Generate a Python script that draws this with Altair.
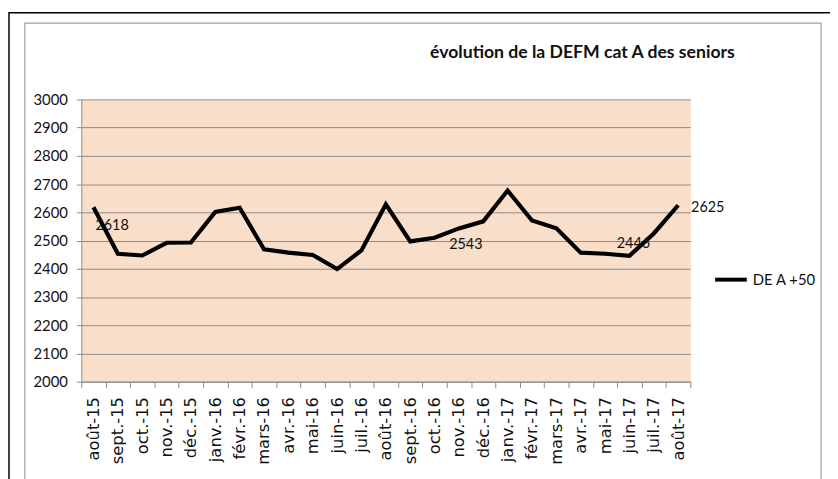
import altair as alt
import pandas as pd

months = ["août-15", "sept.-15", "oct.-15", "nov.-15", "déc.-15", "janv.-16", "févr.-16",
          "mars-16", "avr.-16", "mai-16", "juin-16", "juil.-16", "août-16", "sept.-16",
          "oct.-16", "nov.-16", "déc.-16", "janv.-17", "févr.-17", "mars-17", "avr.-17",
          "mai-17", "juin-17", "juil.-17", "août-17"]
values = [2618, 2453, 2447, 2492, 2493, 2601, 2616, 2469, 2457, 2449, 2399, 2465, 2628,
          2497, 2510, 2543, 2568, 2677, 2571, 2543, 2457, 2453, 2446, 2525, 2625]
series_name = "DE A +50"
title_text = "évolution de la DEFM cat A des seniors"

df = pd.DataFrame({"mois": months, "val": values, "serie": [series_name] * len(months)})

FONT = "Lato, Liberation Sans"
W, H = 615, 285

x_enc = alt.X("mois:N", sort=months, title=None,
              scale=alt.Scale(type="band", paddingInner=0, paddingOuter=0),
              axis=alt.Axis(labelAngle=-90, tickBand="extent", tickSize=6, labelPadding=9,
                            domainColor="#8c8c8c", tickColor="#8c8c8c", grid=False,
                            labelFont="DejaVu Sans", labelFontSize=16.5, labelColor="#111"))
y_enc = alt.Y("val:Q", title=None,
              scale=alt.Scale(domain=[2000, 3000], nice=False, zero=False),
              axis=alt.Axis(values=list(range(2000, 3001, 100)), format="d", tickSize=5,
                            labelPadding=9, domainColor="#8c8c8c", tickColor="#8c8c8c",
                            gridColor="#8c8c8c", gridWidth=1, gridOpacity=1,
                            labelFont=FONT, labelFontSize=15, labelColor="#111"))

base = alt.Chart(df).encode(x=x_enc, y=y_enc)

frame_data = alt.Data(values=[{"k": 1}])
outer = alt.Chart(frame_data).mark_rect(fill="transparent", stroke="black", strokeWidth=1.5).encode(
    x=alt.value(-73), x2=alt.value(760), y=alt.value(-87.5), y2=alt.value(420))
inner = alt.Chart(frame_data).mark_rect(fill="transparent", stroke="#a0a0a0", strokeWidth=1.2).encode(
    x=alt.value(-57), x2=alt.value(747), y=alt.value(-77), y2=alt.value(420))

title = alt.Chart(frame_data).mark_text(font=FONT, fontSize=17.8, fontWeight="bold",
                                        align="center", baseline="alphabetic", color="#111").encode(
    x=alt.value(506), y=alt.value(-42), text=alt.value(title_text))

line = base.mark_line(strokeWidth=4.2).encode(
    color=alt.Color("serie:N", scale=alt.Scale(range=["black"]),
                    legend=alt.Legend(title=None, orient="none", legendX=638, legendY=164,
                                      symbolType="stroke", symbolSize=1024, symbolStrokeWidth=4,
                                      labelFont=FONT, labelFontSize=15, labelColor="#111",
                                      labelOffset=4, padding=0)))

def lab(month, align, dx, dy):
    return base.mark_text(font=FONT, fontSize=14.5, align=align, baseline="middle",
                          dx=dx, dy=dy, color="#111").encode(text="val:Q").transform_filter(
        alt.datum.mois == month)

labels = [lab("août-15", "left", 2, 19), lab("nov.-16", "center", 7, 17),
          lab("juin-17", "center", 4, -12), lab("août-17", "left", 13, 3)]

chart = alt.layer(outer, inner, title, line, *labels).properties(
    width=W, height=H,
    autosize=alt.AutoSizeParams(type="none"),
    padding={"left": 74, "top": 90, "right": 141, "bottom": 96},
    background="white",
).configure_view(fill="#F9DEC9", stroke="transparent")

chart.save("out.html", embed_options={"renderer": "svg", "actions": False})
